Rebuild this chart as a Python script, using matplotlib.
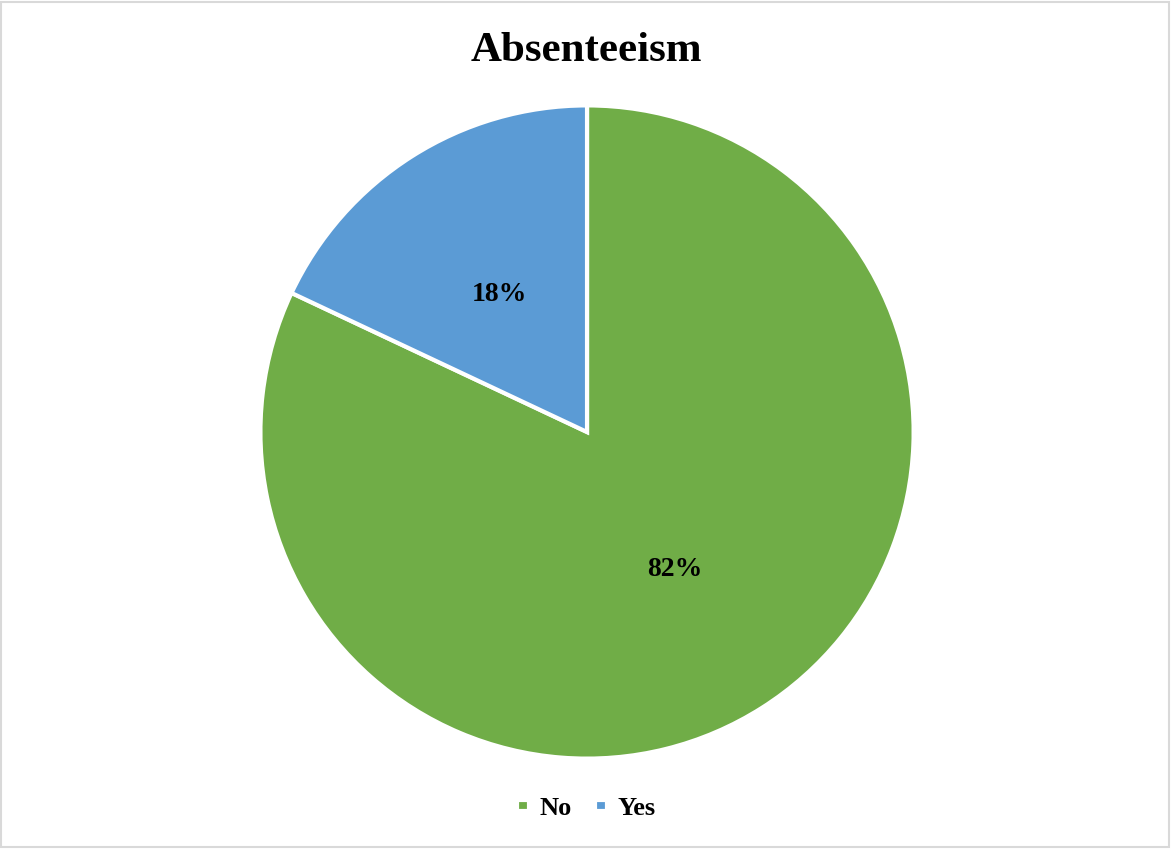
import matplotlib.pyplot as plt
from matplotlib.patches import Rectangle

labels = ['No', 'Yes']
shares = [82, 18]
colors = ['#70AD47', '#5B9BD5']

plt.rcParams['font.family'] = ['Liberation Serif', 'DejaVu Serif']

fig = plt.figure(figsize=(11.73, 8.5), dpi=100)
ax = fig.add_axes([0.2234, 0.1094, 0.5541, 0.7647])

wedges, _, autotexts = ax.pie(shares, colors=colors, startangle=90, counterclock=False,
                              autopct='%1.0f%%', pctdistance=0.5, radius=1.005,
                              wedgeprops={'edgecolor': 'white', 'linewidth': 3},
                              textprops={'fontsize': 20, 'fontweight': 'bold', 'color': 'black'})
ax.set_xlim(-1.0, 1.0)
ax.set_ylim(-1.0, 1.0)
ax.set_aspect('equal')

fig.text(0.5, 0.94, 'Absenteeism', ha='center', va='center', fontsize=31, fontweight='bold')

fig.legend(wedges, labels, loc='center', bbox_to_anchor=(0.5, 0.049), ncol=2, frameon=False,
           prop={'size': 19, 'weight': 'bold'}, handlelength=0.45, handleheight=0.3,
           handletextpad=0.4, columnspacing=0.9)

# light gray chart border
fig.patches.append(Rectangle((0.001, 0.004), 0.996, 0.994, transform=fig.transFigure,
                             fill=False, edgecolor='#D9D9D9', linewidth=1.5))

fig.savefig('out.png', dpi=100)
